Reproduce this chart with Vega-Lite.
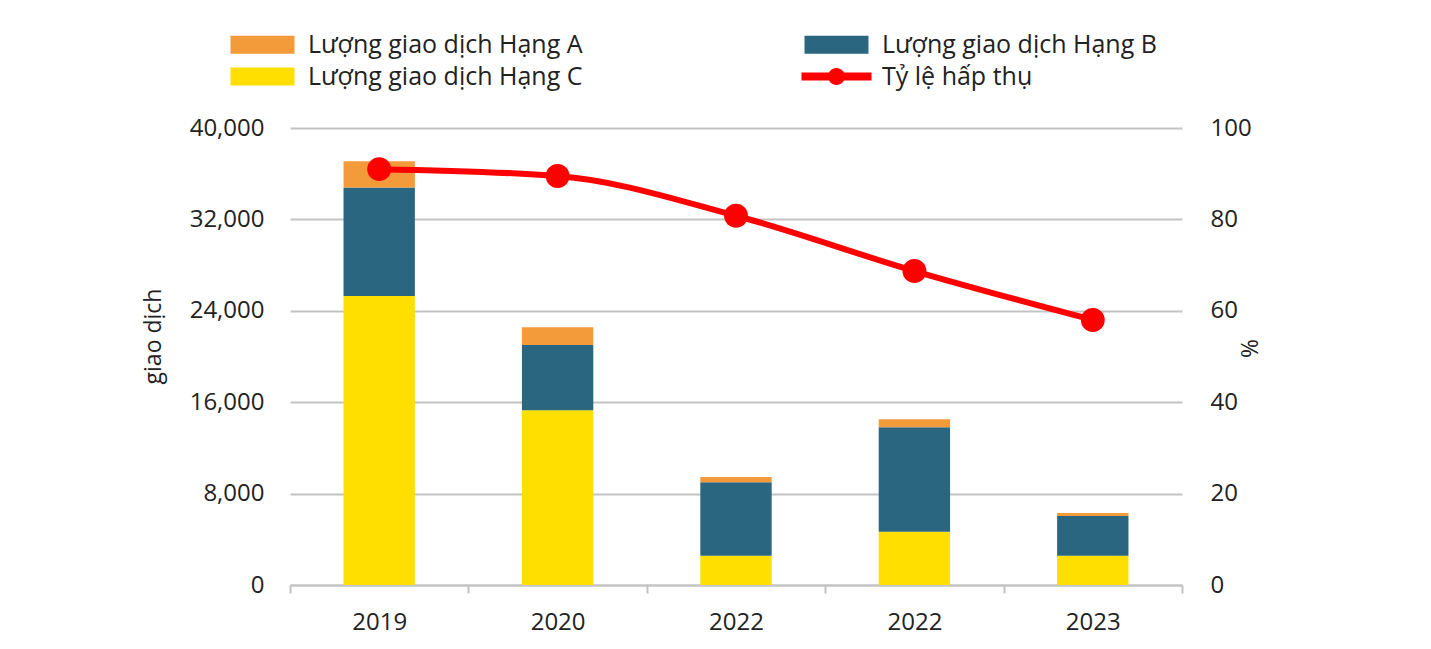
{
  "$schema": "https://vega.github.io/schema/vega-lite/v6.json",
  "width": 892,
  "height": 457,
  "autosize": {"type": "none"},
  "padding": {"left": 290, "top": 128, "right": 249, "bottom": 64},
  "background": "white",
  "config": {
    "font": "Open Sans",
    "view": {"stroke": null},
    "axis": {"labelFont": "Open Sans", "titleFont": "Open Sans", "labelColor": "#222222", "titleColor": "#222222", "titleFontWeight": "normal"}
  },
  "datasets": {
    "volume": [
      {"period": "2019", "series": "Lượng giao dịch Hạng C", "value": 25300},
      {"period": "2019", "series": "Lượng giao dịch Hạng B", "value": 9500},
      {"period": "2019", "series": "Lượng giao dịch Hạng A", "value": 2300},
      {"period": "2020", "series": "Lượng giao dịch Hạng C", "value": 15300},
      {"period": "2020", "series": "Lượng giao dịch Hạng B", "value": 5700},
      {"period": "2020", "series": "Lượng giao dịch Hạng A", "value": 1550},
      {"period": "2022", "series": "Lượng giao dịch Hạng C", "value": 2550},
      {"period": "2022", "series": "Lượng giao dịch Hạng B", "value": 6450},
      {"period": "2022", "series": "Lượng giao dịch Hạng A", "value": 450},
      {"period": "2022 ", "series": "Lượng giao dịch Hạng C", "value": 4650},
      {"period": "2022 ", "series": "Lượng giao dịch Hạng B", "value": 9150},
      {"period": "2022 ", "series": "Lượng giao dịch Hạng A", "value": 700},
      {"period": "2023", "series": "Lượng giao dịch Hạng C", "value": 2550},
      {"period": "2023", "series": "Lượng giao dịch Hạng B", "value": 3500},
      {"period": "2023", "series": "Lượng giao dịch Hạng A", "value": 250}
    ],
    "rate": [
      {"period": "2019", "series": "Tỷ lệ hấp thụ", "rate": 91.0},
      {"period": "2020", "series": "Tỷ lệ hấp thụ", "rate": 89.5},
      {"period": "2022", "series": "Tỷ lệ hấp thụ", "rate": 80.8},
      {"period": "2022 ", "series": "Tỷ lệ hấp thụ", "rate": 68.7},
      {"period": "2023", "series": "Tỷ lệ hấp thụ", "rate": 58.0}
    ]
  },
  "encoding": {
    "x": {
      "field": "period",
      "type": "nominal",
      "sort": null,
      "scale": {"paddingInner": 0, "paddingOuter": 0},
      "axis": {
        "title": null,
        "labelAngle": 0,
        "labelFontSize": 24,
        "labelPadding": 17,
        "domainColor": "#c3c3c3",
        "domainWidth": 2,
        "tickColor": "#c3c3c3",
        "tickWidth": 2,
        "tickSize": 8,
        "tickBand": "extent",
        "grid": false
      }
    }
  },
  "layer": [
    {
      "data": {"name": "volume"},
      "mark": {"type": "bar", "width": {"band": 0.4}},
      "encoding": {
        "y": {
          "field": "value",
          "type": "quantitative",
          "stack": "zero",
          "scale": {"domain": [0, 40000], "nice": false},
          "axis": {
            "title": "giao dịch",
            "titleFontSize": 23,
            "titlePadding": 24,
            "titleY": 208,
            "values": [0, 8000, 16000, 24000, 32000, 40000],
            "format": ",.0f",
            "labelFontSize": 24,
            "labelPadding": 26,
            "ticks": false,
            "domain": false,
            "grid": true,
            "gridColor": "#c3c3c3",
            "gridWidth": 2
          }
        },
        "color": {
          "field": "series",
          "type": "nominal",
          "scale": {
            "domain": ["Lượng giao dịch Hạng A", "Lượng giao dịch Hạng B", "Lượng giao dịch Hạng C", "Tỷ lệ hấp thụ"],
            "range": ["#F39A3B", "#2B6680", "#FFDF00", "#FF0000"]
          },
          "legend": {
            "title": null,
            "orient": "none",
            "direction": "horizontal",
            "legendX": -40,
            "legendY": -96,
            "columns": 2,
            "columnPadding": 218,
            "rowPadding": 6,
            "labelFontSize": 25,
            "labelColor": "#222222",
            "labelOffset": 33,
            "symbolSize": 400,
            "labelLimit": 400,
            "encode": {
              "symbols": {
                "update": {
                  "shape": {"signal": "datum.value === 'Tỷ lệ hấp thụ' ? 'M-3.5,-0.4H3.5V0.4H-3.5Z M0.85,0A0.85,0.85 0 1,1 -0.85,0A0.85,0.85 0 1,1 0.85,0Z' : 'M-3.2,-0.9H3.2V0.9H-3.2Z'"},
                  "fill": {"scale": "color", "field": "value"},
                  "fillOpacity": {"value": 1},
                  "strokeWidth": {"value": 0}
                }
              }
            }
          }
        },
        "order": {"field": "series", "sort": "descending"}
      }
    },
    {
      "data": {"name": "rate"},
      "mark": {"type": "line", "interpolate": "monotone", "strokeWidth": 6, "point": {"filled": true, "size": 570, "color": "#FF0000"}},
      "encoding": {
        "y": {
          "field": "rate",
          "type": "quantitative",
          "scale": {"domain": [0, 100], "nice": false},
          "axis": {
            "orient": "right",
            "title": "%",
            "titleFontSize": 23,
            "titleX": 53,
            "titleY": 220,
            "values": [0, 20, 40, 60, 80, 100],
            "labelFontSize": 24,
            "labelPadding": 28,
            "ticks": false,
            "domain": false,
            "grid": false
          }
        },
        "color": {"field": "series", "type": "nominal"}
      }
    }
  ],
  "resolve": {"scale": {"y": "independent"}}
}
